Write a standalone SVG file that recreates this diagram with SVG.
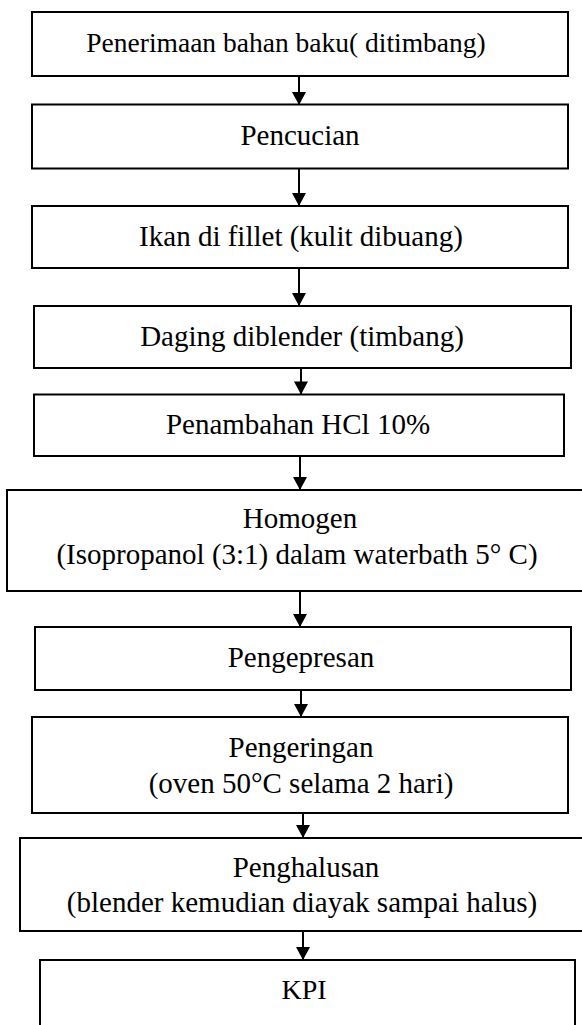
<svg xmlns="http://www.w3.org/2000/svg" width="582" height="1025" viewBox="0 0 582 1025">
<style>
.box{fill:#fff;stroke:#000;stroke-width:2}
.t{font-family:"Liberation Serif","Times New Roman",serif;font-size:29px;fill:#000;text-anchor:middle}
.c{stroke:#000;stroke-width:2;fill:none}
</style>
<defs>
<marker id="ah" markerWidth="15" markerHeight="14" refX="14" refY="7.5" orient="auto" markerUnits="userSpaceOnUse" viewBox="0 0 14 15">
<path d="M0,0 L14,7.5 L0,15 z" fill="#000"/>
</marker>
</defs>
<g id="connectors">
<line class="c" x1="299" y1="76" x2="299" y2="105" marker-end="url(#ah)"/>
<line class="c" x1="299" y1="168.5" x2="299" y2="206" marker-end="url(#ah)"/>
<line class="c" x1="299" y1="268" x2="299" y2="306" marker-end="url(#ah)"/>
<line class="c" x1="301" y1="368" x2="301" y2="394.5" marker-end="url(#ah)"/>
<line class="c" x1="300" y1="456" x2="300" y2="490" marker-end="url(#ah)"/>
<line class="c" x1="300" y1="591" x2="300" y2="627" marker-end="url(#ah)"/>
<line class="c" x1="301" y1="690" x2="301" y2="717" marker-end="url(#ah)"/>
<line class="c" x1="303" y1="813" x2="303" y2="838" marker-end="url(#ah)"/>
<line class="c" x1="303" y1="931" x2="303" y2="960" marker-end="url(#ah)"/>
</g>
<g id="n1"><rect class="box" x="32" y="12" width="536" height="64"/><text class="t" x="286" y="52" style="font-size:27.5px">Penerimaan bahan baku( ditimbang)</text></g>
<g id="n2"><rect class="box" x="32" y="104.5" width="536" height="64"/><text class="t" x="300" y="145">Pencucian</text></g>
<g id="n3"><rect class="box" x="32" y="206" width="536" height="62"/><text class="t" x="301" y="246">Ikan di fillet (kulit dibuang)</text></g>
<g id="n4"><rect class="box" x="34" y="306" width="537" height="62"/><text class="t" x="302" y="346">Daging diblender (timbang)</text></g>
<g id="n5"><rect class="box" x="34" y="394.5" width="530" height="61.5"/><text class="t" x="298" y="434">Penambahan HCl 10%</text></g>
<g id="n6"><rect class="box" x="7" y="490" width="585" height="101"/><text class="t" x="300" y="528">Homogen</text><text class="t" x="297" y="564">(Isopropanol (3:1) dalam waterbath 5° C)</text></g>
<g id="n7"><rect class="box" x="35" y="627" width="536" height="63"/><text class="t" x="301" y="667">Pengepresan</text></g>
<g id="n8"><rect class="box" x="32" y="717" width="536" height="96"/><text class="t" x="301" y="757">Pengeringan</text><text class="t" x="301" y="793">(oven 50°C selama 2 hari)</text></g>
<g id="n9"><rect class="box" x="20" y="838" width="572" height="93"/><text class="t" x="306" y="877">Penghalusan</text><text class="t" x="302" y="912">(blender kemudian diayak sampai halus)</text></g>
<g id="n10"><rect class="box" x="40" y="960" width="535" height="80"/><text class="t" x="304" y="999" style="font-size:28px">KPI</text></g>
</svg>
